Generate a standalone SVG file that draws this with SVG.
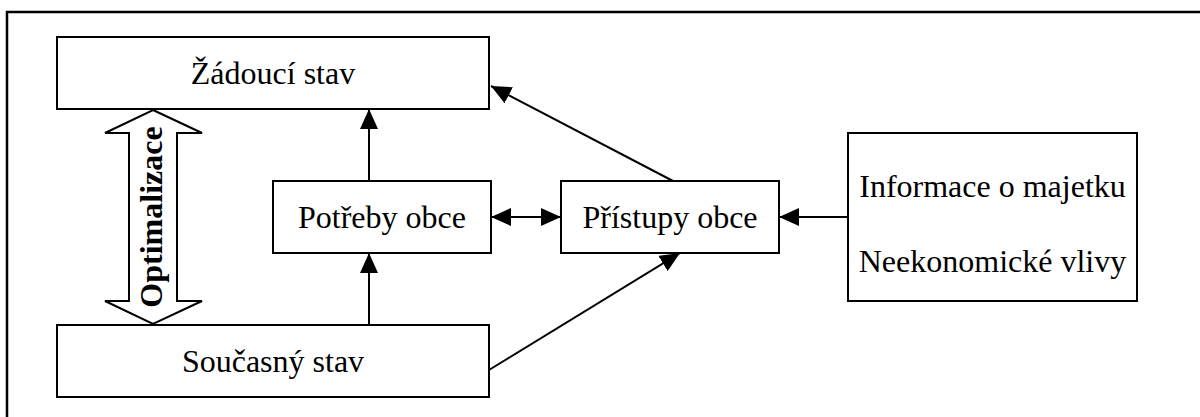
<svg xmlns="http://www.w3.org/2000/svg" width="1200" height="417" viewBox="0 0 1200 417">
  <style>
    .box { fill: #ffffff; stroke: #000000; stroke-width: 2; }
    .lbl { font-family: "Liberation Serif", "Times New Roman", serif; font-size: 32px; fill: #000000; text-anchor: middle; }
    .bold { font-weight: bold; }
    .conn { fill: none; stroke: #000000; stroke-width: 2; }
  </style>
  <defs>
    <marker id="head" markerUnits="userSpaceOnUse" markerWidth="20" markerHeight="18" refX="20" refY="9" orient="auto-start-reverse" viewBox="0 0 20 18">
      <path d="M0,0 L20,9 L0,18 Z" fill="#000000"/>
    </marker>
  </defs>

  <rect width="1200" height="417" fill="#ffffff"/>

  <!-- outer frame (open to the right and bottom) -->
  <rect x="7" y="12" width="1210" height="420" fill="none" stroke="#000000" stroke-width="2.5"/>

  <g id="connectors">
    <line class="conn" x1="369" y1="181" x2="369" y2="109" marker-end="url(#head)"/>
    <line class="conn" x1="369" y1="325" x2="369" y2="253" marker-end="url(#head)"/>
    <line class="conn" x1="491" y1="217" x2="561" y2="217" marker-start="url(#head)" marker-end="url(#head)"/>
    <line class="conn" x1="848" y1="217" x2="779" y2="217" marker-end="url(#head)"/>
    <line class="conn" x1="673" y1="181" x2="491" y2="86" marker-end="url(#head)"/>
    <line class="conn" x1="489" y1="370" x2="680" y2="253" marker-end="url(#head)"/>
  </g>

  <g id="optimalizace">
    <polygon class="box" points="153,110 202,133 177,133 177,301 202,301 153,324 105,301 129,301 129,133 105,133"/>
    <text class="lbl bold" transform="translate(162,217) rotate(-90)">Optimalizace</text>
  </g>

  <g id="zadouci-stav">
    <rect class="box" x="57" y="37" width="432" height="72"/>
    <text class="lbl" x="273" y="84">Žádoucí stav</text>
  </g>

  <g id="soucasny-stav">
    <rect class="box" x="57" y="325" width="432" height="72"/>
    <text class="lbl" x="273" y="372">Současný stav</text>
  </g>

  <g id="potreby-obce">
    <rect class="box" x="273" y="181" width="218" height="72"/>
    <text class="lbl" x="382" y="228">Potřeby obce</text>
  </g>

  <g id="pristupy-obce">
    <rect class="box" x="561" y="181" width="218" height="72"/>
    <text class="lbl" x="670" y="228">Přístupy obce</text>
  </g>

  <g id="vstupy">
    <rect class="box" x="848" y="133" width="289" height="168"/>
    <text class="lbl" x="992.5" y="197">Informace o majetku</text>
    <text class="lbl" x="992.5" y="272">Neekonomické vlivy</text>
  </g>
</svg>
